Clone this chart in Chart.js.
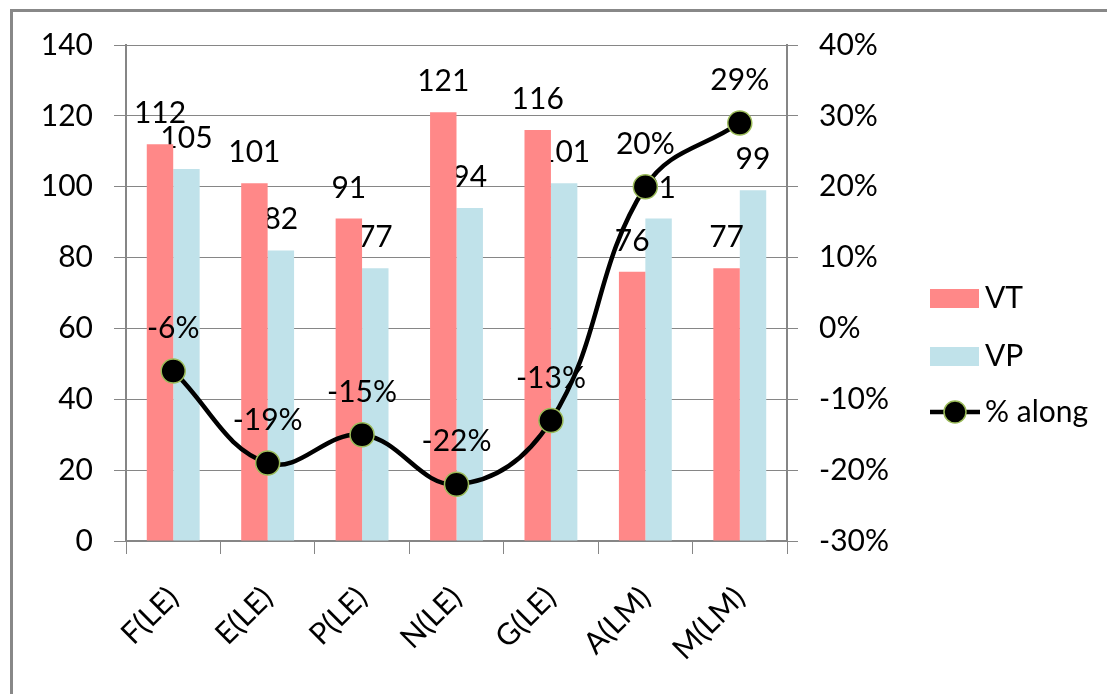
<!DOCTYPE html>
<html>
<head>
<meta charset="utf-8">
<script src="https://cdn.jsdelivr.net/npm/chart.js@4.4.0/dist/chart.umd.min.js"></script>
<style>
    body { margin: 0; background: #fff; }
    #frame {
        position: absolute; left: 10px; top: 9px; width: 1097px; height: 685px;
        border-top: 3px solid #888; border-left: 3px solid #888;
    }
    #along-chart { position: absolute; left: 0; top: 0; }
</style>
</head>
<body>
<div id="frame"></div>
<canvas id="along-chart" width="1107" height="694"></canvas>
<script>
// ------------------ DATA -------------------//
const categories = ["F(LE)", "E(LE)", "P(LE)", "N(LE)", "G(LE)", "A(LM)", "M(LM)"];
const vtValues = [112, 101, 91, 121, 116, 76, 77];
const vpValues = [105, 82, 77, 94, 101, 91, 99];
const alongValues = [-6, -19, -15, -22, -13, 20, 29];
const leftTicks = [0, 20, 40, 60, 80, 100, 120, 140];
const rightTicks = [-30, -20, -10, 0, 10, 20, 30, 40];

const gridGray = '#868686';
const labelFont = '30px Lato';

// ------------------ DATA LABELS -------------------//
const valueLabels = {
    id: 'valueLabels',
    afterDatasetDraw(chart, args) {
        const ctx = chart.ctx;
        const ds = chart.data.datasets[args.index];
        ctx.save();
        ctx.font = labelFont;
        ctx.fillStyle = '#000';
        ctx.textAlign = 'center';
        ctx.textBaseline = 'alphabetic';
        args.meta.data.forEach((el, i) => {
            if (ds.type === 'line') {
                ctx.fillText(ds.data[i] + '%', el.x, el.y - 33);
            } else {
                ctx.fillText(ds.data[i], el.x, el.y - 21);
            }
        });
        ctx.restore();
    }
};

// ------------------ LEGEND -------------------//
const sideLegend = {
    id: 'sideLegend',
    afterDraw(chart) {
        const ctx = chart.ctx;
        const ds = chart.data.datasets;
        ctx.save();
        ctx.font = labelFont;
        ctx.textBaseline = 'middle';
        ctx.textAlign = 'left';
        // VT and VP boxes
        ctx.fillStyle = ds[1].backgroundColor;
        ctx.fillRect(930, 289, 49, 19);
        ctx.fillStyle = ds[2].backgroundColor;
        ctx.fillRect(930, 347, 49, 19);
        // % along line with marker
        ctx.strokeStyle = '#000';
        ctx.lineWidth = 4.5;
        ctx.beginPath();
        ctx.moveTo(930, 412);
        ctx.lineTo(980, 412);
        ctx.stroke();
        ctx.beginPath();
        ctx.arc(955, 412, 11, 0, Math.PI * 2);
        ctx.fillStyle = '#000';
        ctx.fill();
        ctx.lineWidth = 1.5;
        ctx.strokeStyle = ds[0].pointBorderColor;
        ctx.stroke();
        ctx.fillStyle = '#000';
        ctx.fillText(ds[1].label, 985, 298);
        ctx.fillText(ds[2].label, 985, 356);
        ctx.fillText(ds[0].label, 985, 412);
        ctx.restore();
    }
};

// ------------------ CHART -------------------//
const alongCanvas = document.getElementById('along-chart');
const alongData = {
    labels: categories,
    datasets: [{
        type: 'line',
        label: '% along',
        data: alongValues,
        yAxisID: 'y1',
        order: 0,
        borderColor: '#000',
        borderWidth: 4.5,
        tension: 0.4,
        pointRadius: 12,
        pointBackgroundColor: '#000',
        pointBorderColor: '#9BBB59',
        pointBorderWidth: 1.5
    }, {
        type: 'bar',
        label: 'VT',
        data: vtValues,
        yAxisID: 'y',
        order: 1,
        backgroundColor: '#FF8888'
    }, {
        type: 'bar',
        label: 'VP',
        data: vpValues,
        yAxisID: 'y',
        order: 2,
        backgroundColor: '#C0E2EA'
    }]
};
const alongOptions = {
    responsive: false,
    animation: false,
    datasets: {
        bar: { categoryPercentage: 0.56, barPercentage: 1.0 }
    },
    layout: { padding: { top: 45, left: 0, right: 0, bottom: 0 } },
    scales: {
        x: {
            offset: true,
            grid: { offset: true, drawOnChartArea: false, drawTicks: true, tickLength: 13, color: gridGray },
            border: { display: true, color: gridGray, width: 2 },
            ticks: { color: '#000', font: { family: 'Lato', size: 30 }, minRotation: 45, maxRotation: 45, padding: 26 },
            afterFit(scale) { scale.height = 153; }
        },
        y: {
            position: 'left',
            min: 0,
            max: 140,
            afterBuildTicks(scale) { scale.ticks = leftTicks.map(v => ({ value: v })); },
            grid: { color: gridGray, lineWidth: 1, tickLength: 12 },
            border: { display: true, color: gridGray, width: 2 },
            ticks: { color: '#000', font: { family: 'Lato', size: 30 }, padding: 21 },
            afterFit(scale) { scale.width = 126; }
        },
        y1: {
            position: 'right',
            min: -30,
            max: 40,
            afterBuildTicks(scale) { scale.ticks = rightTicks.map(v => ({ value: v })); },
            grid: { drawOnChartArea: false, color: gridGray, tickLength: 11 },
            border: { display: true, color: gridGray, width: 2 },
            ticks: { color: '#000', font: { family: 'Lato', size: 30 }, padding: 21, callback: v => v + '%' },
            afterFit(scale) { scale.width = 320; }
        }
    },
    plugins: {
        legend: { display: false },
        tooltip: { enabled: false }
    }
};
let alongChart = new Chart(alongCanvas, {
    data: alongData,
    options: alongOptions,
    plugins: [valueLabels, sideLegend]
});
</script>
</body>
</html>
